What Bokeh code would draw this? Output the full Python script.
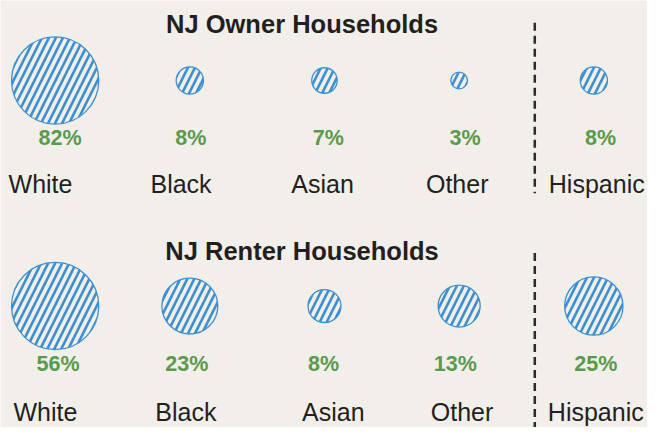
from bokeh.plotting import figure
from bokeh.models import Range1d, ColumnDataSource
from bokeh.core.properties import value
from bokeh.embed import file_html
from bokeh.resources import INLINE
import math

# ---- data ----
categories = ["White", "Black", "Asian", "Other", "Hispanic"]
owner_pct = [82, 8, 7, 3, 8]
renter_pct = [56, 23, 8, 13, 25]
owner_title = "NJ Owner Households"
renter_title = "NJ Renter Households"

# ---- layout / style ----
BG = "#f2efeb"
BLUE = "#3d8fd4"
GREEN = "#5a9a4c"
DARK = "#231f20"
FONT = "Liberation Sans"
R_MAX = 44.7
COL0, COL_STEP = 56, 138
SEP_X = 547.5

# text y positions are the vertical middles of the capital letters
rows = [
    dict(vals=owner_pct, title=owner_title, cy=83, title_y=24, pct_y=143, lab_y=190,
         pct_dx=[5, 1, 4, 6, 7], lab_dx=[-15, -9, -2, -2, 3], sep=(23, 200)),
    dict(vals=renter_pct, title=renter_title, cy=317, title_y=260, pct_y=377, lab_y=427,
         pct_dx=[3, -3, -1, -4, 2], lab_dx=[-10, -4, 9, 3, 2], sep=(262, 445)),
]

p = figure(width=647, height=427, output_backend="svg", toolbar_location=None,
           x_range=Range1d(0, 663), y_range=Range1d(443, 0), min_border=0)
p.axis.visible = False
p.grid.visible = False
p.outline_line_color = None
p.background_fill_color = BG
p.border_fill_color = BG

for row in rows:
    vals = row["vals"]
    vmax = max(vals)
    xs = [COL0 + COL_STEP * i for i in range(len(categories))]
    src = ColumnDataSource(dict(
        x=xs,
        y=[row["cy"]] * len(vals),
        r=[R_MAX * math.sqrt(v / vmax) for v in vals],
        pct=[f"{v}%" for v in vals],
        px=[x + d for x, d in zip(xs, row["pct_dx"])],
        py=[row["pct_y"]] * len(vals),
        lx=[x + d for x, d in zip(xs, row["lab_dx"])],
        ly=[row["lab_y"]] * len(vals),
        cat=categories,
    ))
    p.circle(x="x", y="y", radius="r", source=src, fill_color=BG, fill_alpha=1,
             hatch_pattern="/", hatch_color=BLUE, hatch_scale=14, hatch_weight=2.6,
             line_color=BLUE, line_width=1.3)
    p.text(x="px", y="py", text="pct", source=src, text_font=value(FONT),
           text_font_style="bold", text_font_size="21.5px", text_color=GREEN,
           text_align="center", text_baseline="middle")
    p.text(x="lx", y="ly", text="cat", source=src, text_font=value(FONT),
           text_font_size="25px", text_color=DARK,
           text_align="center", text_baseline="middle")
    p.text(x=[309], y=[row["title_y"]], text=[row["title"]], text_font=value(FONT),
           text_font_style="bold", text_font_size="25.5px", text_color=DARK,
           text_align="center", text_baseline="middle")
    p.line(x=[SEP_X, SEP_X], y=list(row["sep"]), line_color="#2b2b2b",
           line_width=2.5, line_dash="8 5")

open("out.html", "w").write(file_html(p, INLINE))
